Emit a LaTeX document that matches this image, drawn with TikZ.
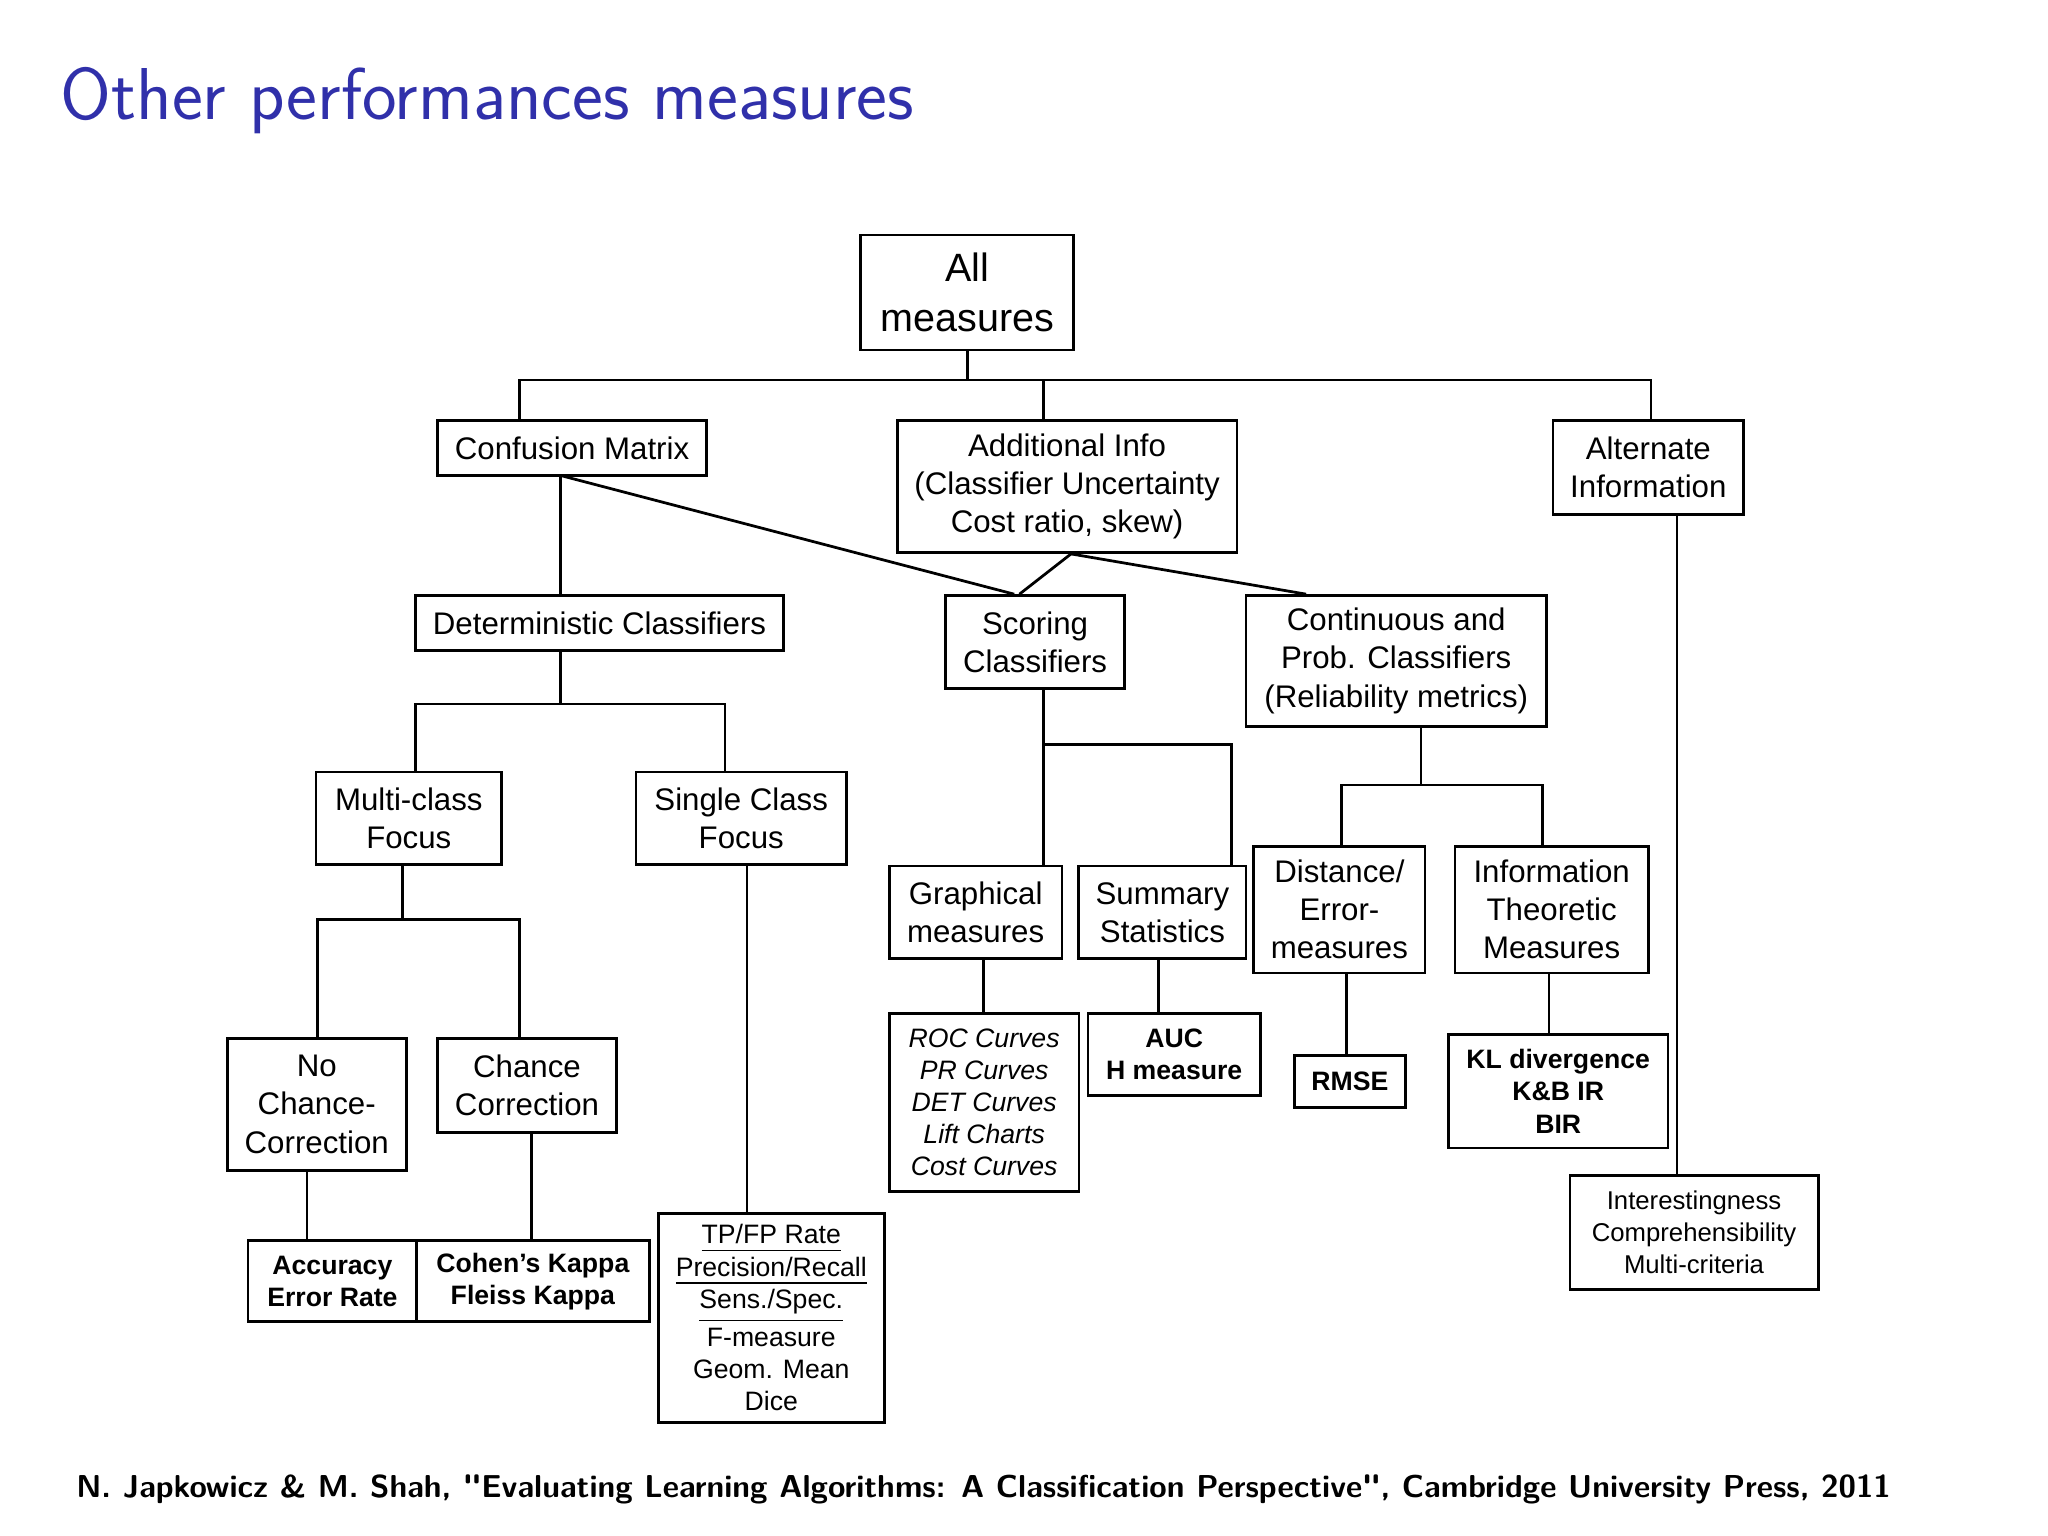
\documentclass[tikz,border=0pt]{standalone}
\usepackage{fontspec}
\setmainfont{Liberation Sans}
\usetikzlibrary{calc}
\definecolor{titleblue}{RGB}{48,48,170}
\newfontfamily\lmsans{Latin Modern Sans}
\begin{document}
\begin{tikzpicture}[x=0.01cm,y=-0.01cm,
  box/.style={draw,line width=0.6pt,align=center,inner sep=0pt,font=\fontsize{6.8}{8.3}\selectfont},
  leaf/.style={box,font=\fontsize{5.8}{7}\selectfont\bfseries},
  ln/.style={line width=0.6pt}]
\useasboundingbox (0,0) rectangle (1568,1176);
\node[anchor=west,text=titleblue,font=\lmsans\fontsize{16}{19}\selectfont] (title) at (34,77) {Other performances measures};
\node[anchor=west,font=\lmsans\bfseries\fontsize{6.9}{8}\selectfont] (foot) at (46,1140) {N. Japkowicz \& M. Shah, "Evaluating Learning Algorithms: A Classification Perspective", Cambridge University Press, 2011};

\node[box,minimum width=1.63cm,minimum height=0.88cm,font=\fontsize{8.6}{10.8}\selectfont] (all) at (740.5,224) {All\\measures};
\node[box,minimum width=2.06cm,minimum height=0.42cm] (conf) at (438,343) {Confusion Matrix};
\node[box,minimum width=2.60cm,minimum height=1.01cm] (add) at (817,372.5) {Additional Info\\(Classifier Uncertainty\\Cost ratio, skew)};
\node[box,minimum width=1.46cm,minimum height=0.72cm] (alt) at (1262,358) {Alternate\\Information};
\node[box,minimum width=2.82cm,minimum height=0.42cm] (det) at (459,477) {Deterministic Classifiers};
\node[box,minimum width=1.37cm,minimum height=0.71cm] (sco) at (792.5,491.5) {Scoring\\Classifiers};
\node[box,minimum width=2.30cm,minimum height=1.00cm] (con) at (1069,506) {Continuous and\\Prob. Classifiers\\(Reliability metrics)};
\node[box,minimum width=1.42cm,minimum height=0.71cm] (mul) at (313,626.5) {Multi-class\\Focus};
\node[box,minimum width=1.61cm,minimum height=0.71cm] (sin) at (567.5,626.5) {Single Class\\Focus};
\node[box,minimum width=1.32cm,minimum height=0.71cm] (gra) at (747,698.5) {Graphical\\measures};
\node[box,minimum width=1.28cm,minimum height=0.71cm] (sum) at (890,698.5) {Summary\\Statistics};
\node[box,minimum width=1.31cm,minimum height=0.97cm] (dis) at (1025.5,696.5) {Distance/\\Error-\\measures};
\node[box,minimum width=1.48cm,minimum height=0.97cm] (inf) at (1188,696.5) {Information\\Theoretic\\Measures};
\node[box,minimum width=1.37cm,minimum height=1.01cm] (noc) at (242.5,845.5) {No\\Chance-\\Correction};
\node[box,minimum width=1.37cm,minimum height=0.72cm] (cha) at (403.5,831) {Chance\\Correction};
\node[leaf,minimum width=1.45cm,minimum height=1.36cm,font=\fontsize{5.8}{7}\selectfont\itshape] (roc) at (753.5,844) {ROC Curves\\PR Curves\\DET Curves\\Lift Charts\\Cost Curves};
\node[leaf,minimum width=1.32cm,minimum height=0.63cm] (auc) at (899,807.5) {AUC\\H measure};
\node[leaf,minimum width=0.85cm,minimum height=0.40cm] (rmse) at (1033.5,828) {RMSE};
\node[leaf,minimum width=1.68cm,minimum height=0.87cm] (kl) at (1193,835.5) {KL divergence\\K\&B IR\\BIR};
\node[leaf,minimum width=1.90cm,minimum height=0.87cm,font=\fontsize{5.6}{7}\selectfont] (int) at (1297,943.5) {Interestingness\\Comprehensibility\\Multi-criteria};
\node[leaf,minimum width=1.29cm,minimum height=0.62cm] (acc) at (254.5,981) {Accuracy\\Error Rate};
\node[leaf,minimum width=1.78cm,minimum height=0.62cm] (coh) at (408,981) {Cohen's Kappa\\Fleiss Kappa};
\node[leaf,minimum width=1.73cm,minimum height=1.60cm,font=\fontsize{5.8}{7.05}\selectfont] (tp) at (590.5,1009) {\mdseries\underline{TP/FP Rate}\\\mdseries\underline{Precision/Recall}\\\mdseries\underline{Sens./Spec.}\\F-measure\\Geom. Mean\\Dice};

% connectors
\coordinate (b1) at (398,291); \coordinate (b2) at (799,291); \coordinate (b3) at (1264,291);
\draw[ln] (all.south) -- (all.south |- b1);
\draw[ln] (conf.north -| b1) -- (b1) -- (b3) -- (b3 |- alt.north);
\draw[ln] (b2) -- (b2 |- add.north);
\coordinate (c1) at (429,364);
\draw[ln] (c1) -- (c1 |- det.north);
\draw[ln] (c1) -- ($(sco.north)+(-16,0)$);
\draw[ln] ($(add.south)+(3,0)$) -- ($(sco.north)+(-12,0)$);
\draw[ln] ($(add.south)+(3,0)$) -- ($(con.north)+(-69,0)$);
\coordinate (d1) at (429,539); \coordinate (d2) at (318,539); \coordinate (d3) at (555,539);
\draw[ln] (d1 |- det.south) -- (d1);
\draw[ln] (d2 |- mul.north) -- (d2) -- (d3) -- (d3 |- sin.north);
\coordinate (s1) at (799,570); \coordinate (s2) at (943,570);
\draw[ln] (s1 |- sco.south) -- (s1 |- gra.north);
\draw[ln] (s1) -- (s2) -- (s2 |- sum.north);
\coordinate (e1) at (1088,601); \coordinate (e2) at (1027,601); \coordinate (e3) at (1181,601);
\draw[ln] (e1 |- con.south) -- (e1);
\draw[ln] (e2 |- dis.north) -- (e2) -- (e3) -- (e3 |- inf.north);
\coordinate (m1) at (308,704); \coordinate (m2) at (243,704); \coordinate (m3) at (398,704);
\draw[ln] (m1 |- mul.south) -- (m1);
\draw[ln] (m2 |- noc.north) -- (m2) -- (m3) -- (m3 |- cha.north);
\coordinate (x1) at (572,0); \draw[ln] (x1 |- sin.south) -- (x1 |- tp.north);
\coordinate (x2) at (1284,0); \draw[ln] (x2 |- alt.south) -- (x2 |- int.north);
\coordinate (x3) at (753,0); \draw[ln] (x3 |- gra.south) -- (x3 |- roc.north);
\coordinate (x4) at (887,0); \draw[ln] (x4 |- sum.south) -- (x4 |- auc.north);
\coordinate (x5) at (1031,0); \draw[ln] (x5 |- dis.south) -- (x5 |- rmse.north);
\coordinate (x6) at (1186,0); \draw[ln] (x6 |- inf.south) -- (x6 |- kl.north);
\coordinate (x7) at (235,0); \draw[ln] (x7 |- noc.south) -- (x7 |- acc.north);
\coordinate (x8) at (407,0); \draw[ln] (x8 |- cha.south) -- (x8 |- coh.north);
\end{tikzpicture}
\end{document}
